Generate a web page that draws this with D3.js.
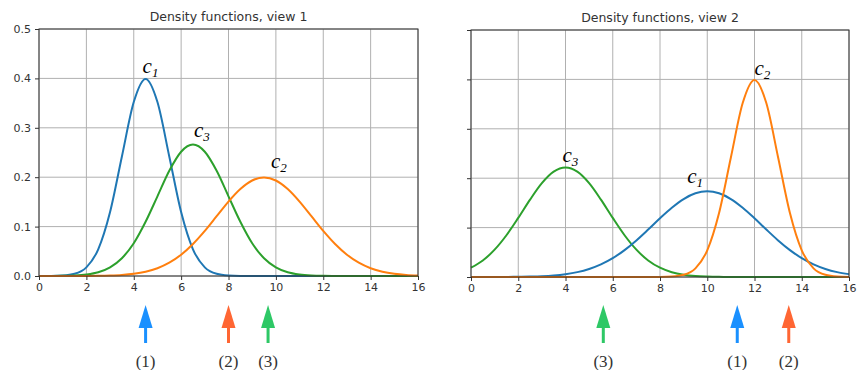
<!DOCTYPE html>
<html>
<head>
<meta charset="utf-8">
<script src="https://cdn.jsdelivr.net/npm/d3@7"></script>
<style>
  body { margin: 0; background: #fff; }
  svg { display: block; }
  .tick text { font-family: "DejaVu Sans", sans-serif; font-size: 11px; fill: #333; }
</style>
</head>
<body>
<div id="chart"></div>
<script>

// sample points along x (shared by every curve)
const xs = [0, 0.5, 1, 1.5, 2, 2.5, 3, 3.5, 4, 4.5, 5, 5.5, 6, 6.5, 7, 7.5, 8,
            8.5, 9, 9.5, 10, 10.5, 11, 11.5, 12, 12.5, 13, 13.5, 14, 14.5, 15, 15.5, 16];

// view 1 densities
const v1_c1 = [0, 0.0001, 0.0009, 0.0044, 0.0175, 0.054, 0.1295, 0.242, 0.3521, 0.3989, 0.3521,
               0.242, 0.1295, 0.054, 0.0175, 0.0044, 0.0009, 0.0001, 0, 0, 0, 0, 0, 0, 0, 0, 0, 0, 0, 0, 0, 0, 0];
const v1_c2 = [0, 0, 0, 0.0001, 0.0002, 0.0004, 0.001, 0.0022, 0.0046, 0.0088, 0.0158, 0.027, 0.0431,
               0.0648, 0.0913, 0.121, 0.1506, 0.176, 0.1933, 0.1995, 0.1933, 0.176, 0.1506, 0.121, 0.0913,
               0.0648, 0.0431, 0.027, 0.0158, 0.0088, 0.0046, 0.0022, 0.001];
const v1_c3 = [0, 0.0001, 0.0003, 0.001, 0.003, 0.0076, 0.0176, 0.036, 0.0663, 0.1098, 0.1613, 0.213,
               0.2516, 0.266, 0.2516, 0.213, 0.1613, 0.1098, 0.0663, 0.036, 0.0176, 0.0076, 0.003, 0.001,
               0.0003, 0.0001, 0, 0, 0, 0, 0, 0, 0];

// view 2 densities
const v2_c1 = [0, 0, 0.0001, 0.0002, 0.0004, 0.0009, 0.0017, 0.0032, 0.0058, 0.0099, 0.0163, 0.0256,
               0.0382, 0.0545, 0.0741, 0.0961, 0.1189, 0.1402, 0.1578, 0.1694, 0.1734, 0.1694, 0.1578,
               0.1402, 0.1189, 0.0961, 0.0741, 0.0545, 0.0382, 0.0256, 0.0163, 0.0099, 0.0058];
const v2_c2 = [0, 0, 0, 0, 0, 0, 0, 0, 0, 0, 0, 0, 0, 0, 0, 0, 0.0001, 0.0009, 0.0044, 0.0175, 0.054,
               0.1295, 0.242, 0.3521, 0.3989, 0.3521, 0.242, 0.1295, 0.054, 0.0175, 0.0044, 0.0009, 0.0001];
const v2_c3 = [0.0188, 0.0335, 0.0553, 0.0845, 0.1196, 0.1566, 0.1899, 0.2132, 0.2216, 0.2132, 0.1899,
               0.1566, 0.1196, 0.0845, 0.0553, 0.0335, 0.0188, 0.0097, 0.0047, 0.0021, 0.0009, 0.0003,
               0.0001, 0, 0, 0, 0, 0, 0, 0, 0, 0, 0];

const titles = ["Density functions, view 1", "Density functions, view 2"];
const xTicks = [0, 2, 4, 6, 8, 10, 12, 14, 16];
const yTicks = [0, 0.1, 0.2, 0.3, 0.4, 0.5];

// arrows under the axes (x position in data units)
const arrows1 = [{label: "(1)", x: 4.5, key: 1}, {label: "(2)", x: 8.0, key: 2}, {label: "(3)", x: 9.67, key: 3}];
const arrows2 = [{label: "(3)", x: 5.6, key: 3}, {label: "(1)", x: 11.27, key: 1}, {label: "(2)", x: 13.45, key: 2}];

const lineColor = {1: "#1f77b4", 2: "#ff7f0e", 3: "#2ca02c"};
const arrowColor = {1: "#1a90ff", 2: "#ff6633", 3: "#2ec866"};

const W = 857, H = 370;

const svg = d3.select("#chart").append("svg")
    .attr("width", W)
    .attr("height", H);

// panel geometry: [left, right, top, bottom], label offsets in px
const panels = [
  {box: [39, 418, 29, 276], showY: true, title: titles[0], arrows: arrows1,
   series: [{k: 1, ys: v1_c1, off: [-3, -6]}, {k: 3, ys: v1_c3, off: [1, -8]}, {k: 2, ys: v1_c2, off: [7, -9]}]},
  {box: [471, 849, 30, 277], showY: false, title: titles[1], arrows: arrows2,
   series: [{k: 3, ys: v2_c3, off: [-3, -6]}, {k: 1, ys: v2_c1, off: [-20, -8]}, {k: 2, ys: v2_c2, off: [0, -5]}]}
];

panels.forEach(function(p) {
  const [l, r, t, b] = p.box;
  const x = d3.scaleLinear().domain([0, 16]).range([l, r]);
  const y = d3.scaleLinear().domain([0, 0.5]).range([b, t]);

  const g = svg.append("g");

  // grid
  g.append("g").selectAll("line.gx")
    .data(xTicks).enter().append("line")
      .attr("x1", d => x(d)).attr("x2", d => x(d))
      .attr("y1", t).attr("y2", b)
      .attr("stroke", "#b0b0b0").attr("stroke-width", 1);
  g.append("g").selectAll("line.gy")
    .data(yTicks).enter().append("line")
      .attr("x1", l).attr("x2", r)
      .attr("y1", d => y(d)).attr("y2", d => y(d))
      .attr("stroke", "#b0b0b0").attr("stroke-width", 1);

  // curves
  const line = d3.line()
      .x((d, i) => x(xs[i]))
      .y(d => y(d))
      .curve(d3.curveMonotoneX);

  p.series.forEach(function(s) {
    g.append("path")
      .datum(s.ys)
      .attr("d", line)
      .attr("fill", "none")
      .attr("stroke", lineColor[s.k])
      .attr("stroke-width", 2);
  });

  // c labels near each peak
  p.series.forEach(function(s) {
    const mi = d3.maxIndex(s.ys);
    const tx = g.append("text")
      .attr("x", x(xs[mi]) + s.off[0])
      .attr("y", y(s.ys[mi]) + s.off[1])
      .attr("font-family", "Liberation Serif, serif")
      .attr("font-style", "italic")
      .attr("font-size", 21)
      .attr("fill", "#000");
    tx.append("tspan").text("c");
    tx.append("tspan").attr("font-size", 13).attr("dy", 4).text(s.k);
  });

  // axes
  g.append("g")
    .attr("transform", "translate(0," + b + ")")
    .call(d3.axisBottom(x).tickValues(xTicks).tickSize(4).tickPadding(3).tickFormat(d3.format("d")))
    .call(a => a.select(".domain").remove());
  const ya = d3.axisLeft(y).tickValues(yTicks).tickSize(4).tickPadding(4);
  if (p.showY) ya.tickFormat(d3.format(".1f")); else ya.tickFormat("");
  g.append("g")
    .attr("transform", "translate(" + l + ",0)")
    .call(ya)
    .call(a => a.select(".domain").remove());
  g.selectAll(".tick line").attr("stroke", "#333");

  // frame
  g.append("rect")
    .attr("x", l).attr("y", t)
    .attr("width", r - l).attr("height", b - t)
    .attr("fill", "none")
    .attr("stroke", "#333")
    .attr("stroke-width", 1);

  // title
  g.append("text")
    .attr("x", (l + r) / 2)
    .attr("y", t - 8)
    .attr("text-anchor", "middle")
    .attr("font-family", "DejaVu Sans, sans-serif")
    .attr("font-size", 12.5)
    .attr("fill", "#333")
    .text(p.title);

  // arrows
  const ag = g.append("g").selectAll("g")
    .data(p.arrows).enter().append("g")
      .attr("transform", d => "translate(" + x(d.x) + ",0)");
  ag.append("rect")
    .attr("x", -1.5).attr("y", 325).attr("width", 3).attr("height", 18)
    .attr("fill", d => arrowColor[d.key]);
  ag.append("path")
    .attr("d", "M0,305 L7,328 L-7,328 Z")
    .attr("fill", d => arrowColor[d.key]);
  ag.append("text")
    .attr("y", 367)
    .attr("text-anchor", "middle")
    .attr("font-family", "Liberation Serif, serif")
    .attr("font-size", 17)
    .attr("fill", "#333")
    .text(d => d.label);
});

</script>
</body>
</html>
